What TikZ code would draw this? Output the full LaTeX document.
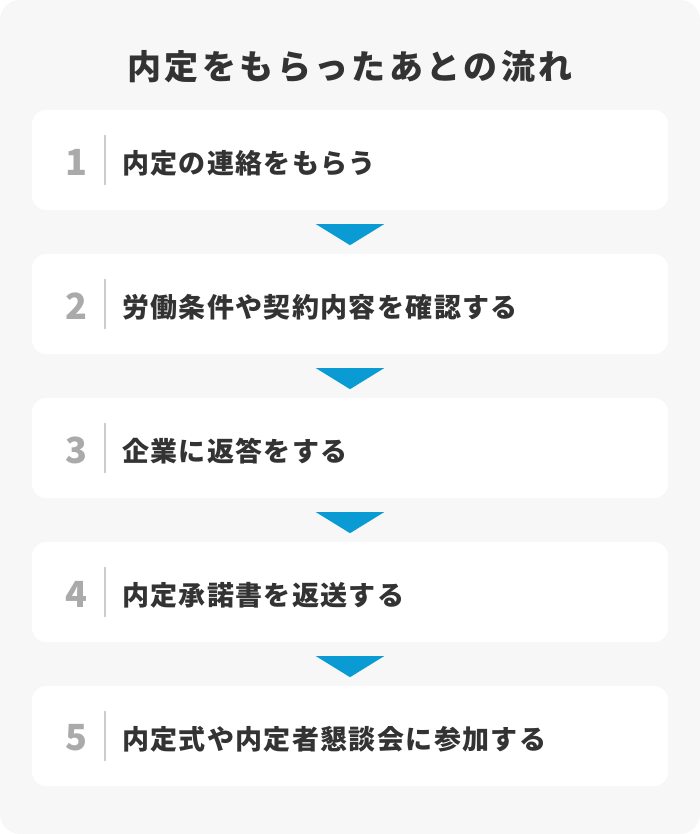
\documentclass[tikz,border=0pt]{standalone}
\usepackage{fontspec}
\setmainfont{Noto Sans CJK JP}
\newfontfamily\titlefont{Noto Sans CJK JP}[LetterSpace=10]
\newfontfamily\stepfont{Noto Sans CJK JP}[LetterSpace=5]
\usetikzlibrary{calc}
\definecolor{bgc}{HTML}{F7F7F7}
\definecolor{txt}{HTML}{333333}
\definecolor{numc}{HTML}{AAAAAA}
\definecolor{sepc}{HTML}{CCCCCC}
\definecolor{arr}{HTML}{0A9BD4}
\tikzset{
  stepbox/.style={fill=white, rounded corners=14pt, minimum width=636pt, minimum height=100pt, inner sep=0pt},
  numlabel/.style={font=\fontsize{36}{36}\selectfont\bfseries, text=numc, inner sep=0pt},
  steplabel/.style={font=\stepfont\fontsize{27}{27}\selectfont\bfseries, text=txt, inner sep=0pt, anchor=west},
  seprule/.style={draw=sepc, line width=1.5pt},
  downtri/.style={fill=arr},
}
\begin{document}
\begin{tikzpicture}[x=1pt,y=-1pt]
\useasboundingbox (0,0) rectangle (700,834);
\fill[bgc, rounded corners=20pt] (0,0) rectangle (700,834);
\node[font=\titlefont\fontsize{34}{34}\selectfont\bfseries, text=txt, inner sep=0pt] (title) at (350,67) {内定をもらったあとの流れ};
\foreach \i/\t in {1/内定の連絡をもらう, 2/労働条件や契約内容を確認する, 3/企業に返答をする, 4/内定承諾書を返送する, 5/内定式や内定者懇談会に参加する} {
  \pgfmathsetmacro{\cy}{160+144*(\i-1)}
  \node[stepbox] (b\i) at (350,\cy) {};
  \node[numlabel] (n\i) at (76,\cy+2) {\i};
  \coordinate (st\i) at (105,\cy-25);
  \coordinate (sb\i) at (105,\cy+25);
  \draw[seprule] (st\i) -- (sb\i);
  \node[steplabel] (t\i) at (122,\cy+3) {\t};
}
\foreach \i in {1,2,3,4} {
  \fill[downtri] ($(b\i.south)+(-34,14)$) -- ($(b\i.south)+(34,14)$) -- ($(b\i.south)+(0,35)$) -- cycle;
}
\end{tikzpicture}
\end{document}
